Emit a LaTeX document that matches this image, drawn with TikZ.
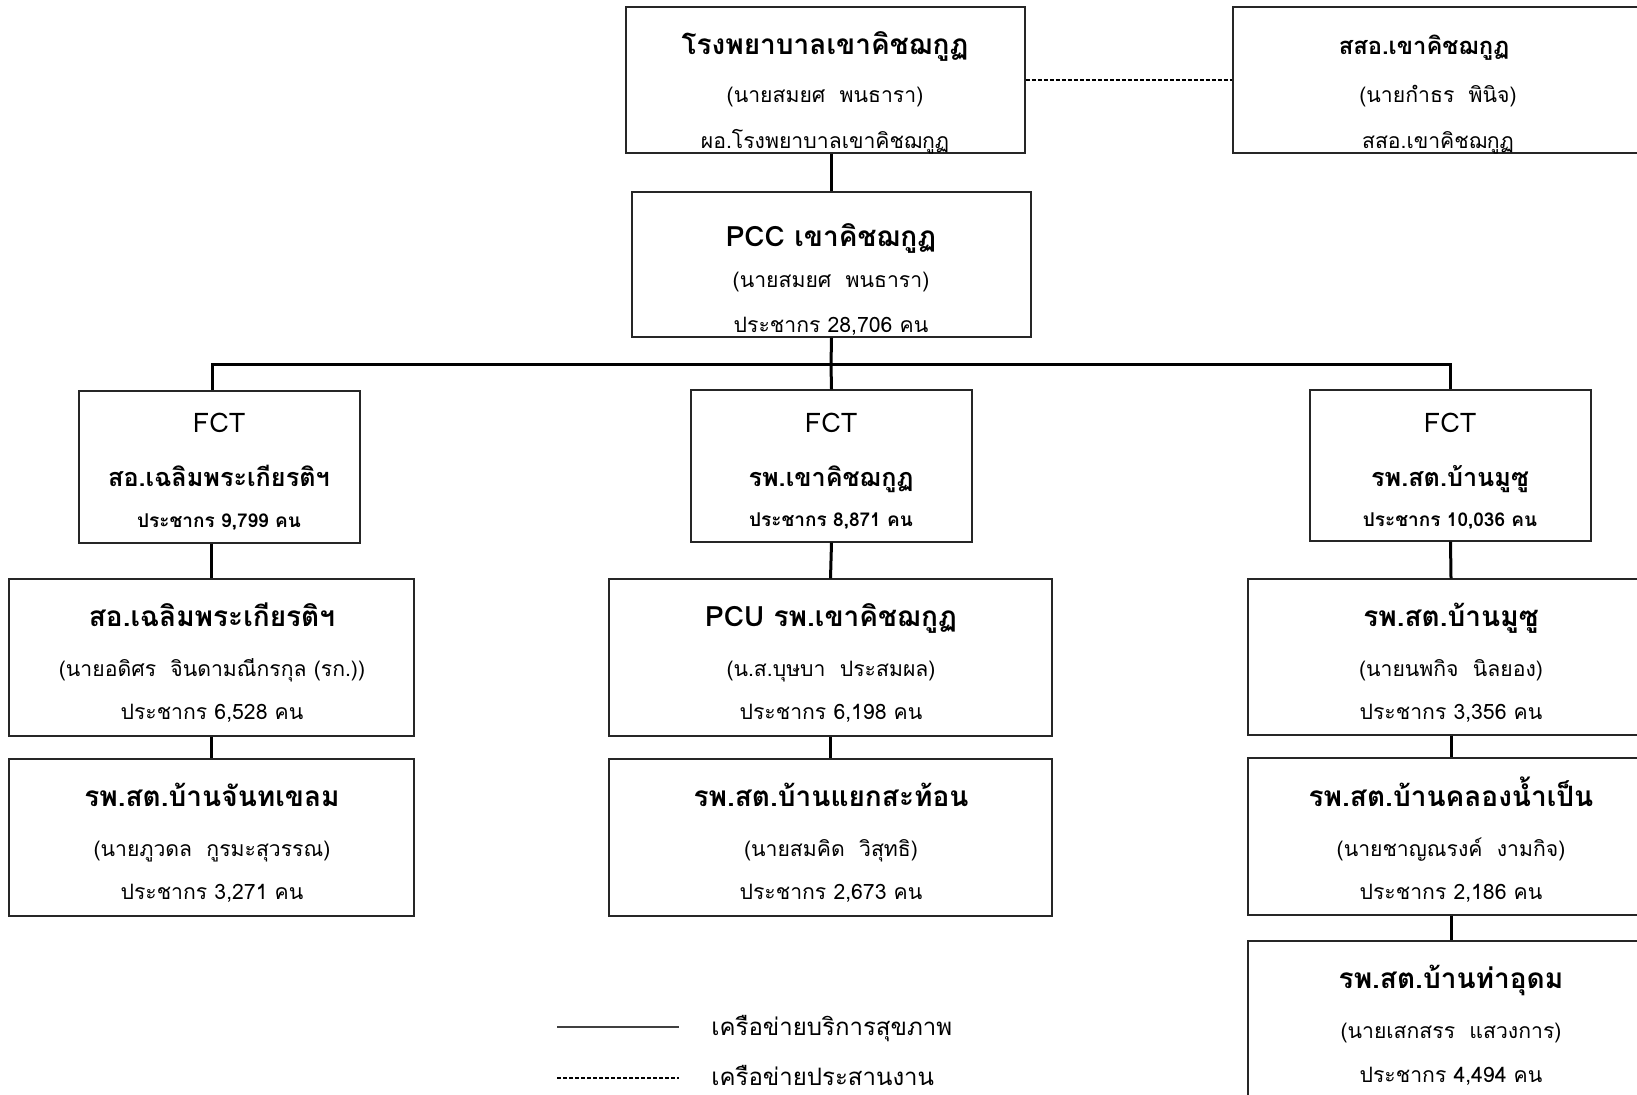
\documentclass[tikz,border=0pt]{standalone}
\usepackage{fontspec}
\setmainfont[Script=Thai]{Loma}
\usetikzlibrary{fit}

\begin{document}
\begin{tikzpicture}[x=0.5pt,y=-0.5pt]
\tikzstyle{every node}+=[inner sep=0pt]
\tikzstyle{box}=[draw=black!85,line width=0.65pt]
\tikzstyle{headtxt}=[anchor=base,font=\fontsize{14}{16}\selectfont\bfseries]
\tikzstyle{fcthead}=[anchor=base,font=\fontsize{12.6}{15}\selectfont\bfseries]
\tikzstyle{fcttxt}=[anchor=base,font=\fontsize{13.5}{15}\selectfont]
\tikzstyle{bodytxt}=[anchor=base,font=\fontsize{10.6}{13}\selectfont]
\tikzstyle{poptxt}=[anchor=base,font=\fontsize{9.5}{11}\selectfont\bfseries]
\tikzstyle{legtxt}=[anchor=base west,font=\fontsize{12}{14}\selectfont]
\tikzstyle{link}=[line width=1.5pt]
\tikzstyle{coop}=[line width=0.6pt,dash pattern=on 2pt off 1pt]
\useasboundingbox (0,0) rectangle (1637,1095);
\clip (0,0) rectangle (1637,1095);
% top row
\node[box,fit={(626,7) (1025,153)}] (hosp) {};
\node[headtxt] (hospT) at (825,55) {โรงพยาบาลเขาคิชฌกูฏ};
\node[bodytxt] (hospN) at (825,103) {(นายสมยศ~~พนธารา)};
\node[bodytxt] (hospP) at (825,149) {ผอ.โรงพยาบาลเขาคิชฌกูฏ};
\node[box,fit={(1233,7) (1660,153)}] (sso) {};
\node[headtxt,font=\fontsize{11.9}{14}\selectfont\bfseries] (ssoT) at (1424,55) {สสอ.เขาคิชฌกูฏ};
\node[bodytxt] (ssoN) at (1438,103) {(นายกำธร~~พินิจ)};
\node[bodytxt] (ssoP) at (1438,149) {สสอ.เขาคิชฌกูฏ};
\node[box,fit={(632,192) (1031,337)}] (pcc) {};
\node[headtxt] (pccT) at (831,247) {PCC เขาคิชฌกูฏ};
\node[bodytxt] (pccN) at (831,288) {(นายสมยศ~~พนธารา)};
\node[bodytxt] (pccP) at (831,333) {ประชากร 28,706 คน};
% FCT row
\node[box,fit={(79,391) (360,543)}] (fct1) {};
\node[fcttxt] (fct1A) at (219,433) {FCT};
\node[fcthead] (fct1T) at (219,487) {สอ.เฉลิมพระเกียรติฯ};
\node[poptxt] (fct1P) at (219,528) {ประชากร 9,799 คน};
\node[box,fit={(691,390) (972,542)}] (fct2) {};
\node[fcttxt] (fct2A) at (831,433) {FCT};
\node[fcthead] (fct2T) at (831,487) {รพ.เขาคิชฌกูฏ};
\node[poptxt] (fct2P) at (831,527) {ประชากร 8,871 คน};
\node[box,fit={(1310,390) (1591,541)}] (fct3) {};
\node[fcttxt] (fct3A) at (1450,433) {FCT};
\node[fcthead] (fct3T) at (1450,487) {รพ.สต.บ้านมูซู};
\node[poptxt] (fct3P) at (1450,527) {ประชากร 10,036 คน};
% units
\node[box,fit={(9,579) (414,736)}] (chal) {};
\node[headtxt] (chalT) at (212,626) {สอ.เฉลิมพระเกียรติฯ};
\node[bodytxt] (chalN) at (212,676) {(นายอดิศร~~จินดามณีกรกุล (รก.))};
\node[bodytxt] (chalP) at (212,719) {ประชากร 6,528 คน};
\node[box,fit={(609,579) (1052,736)}] (pcu) {};
\node[headtxt] (pcuT) at (831,626) {PCU รพ.เขาคิชฌกูฏ};
\node[bodytxt] (pcuN) at (831,676) {(น.ส.บุษบา~~ประสมผล)};
\node[bodytxt] (pcuP) at (831,719) {ประชากร 6,198 คน};
\node[box,fit={(1248,579) (1654,735)}] (muso) {};
\node[headtxt] (musoT) at (1451,626) {รพ.สต.บ้านมูซู};
\node[bodytxt] (musoN) at (1451,676) {(นายนพกิจ~~นิลยอง)};
\node[bodytxt] (musoP) at (1451,719) {ประชากร 3,356 คน};
\node[box,fit={(9,759) (414,916)}] (chan) {};
\node[headtxt] (chanT) at (212,806) {รพ.สต.บ้านจันทเขลม};
\node[bodytxt] (chanN) at (212,856) {(นายภูวดล~~กูรมะสุวรรณ)};
\node[bodytxt] (chanP) at (212,899) {ประชากร 3,271 คน};
\node[box,fit={(609,759) (1052,916)}] (yaek) {};
\node[headtxt] (yaekT) at (831,806) {รพ.สต.บ้านแยกสะท้อน};
\node[bodytxt] (yaekN) at (831,856) {(นายสมคิด~~วิสุทธิ)};
\node[bodytxt] (yaekP) at (831,899) {ประชากร 2,673 คน};
\node[box,fit={(1248,758) (1654,915)}] (khlong) {};
\node[headtxt] (khlongT) at (1451,806) {รพ.สต.บ้านคลองน้ำเป็น};
\node[bodytxt] (khlongN) at (1451,856) {(นายชาญณรงค์~~งามกิจ)};
\node[bodytxt] (khlongP) at (1451,899) {ประชากร 2,186 คน};
\node[box,fit={(1248,941) (1654,1120)}] (tha) {};
\node[headtxt] (thaT) at (1451,988) {รพ.สต.บ้านท่าอุดม};
\node[bodytxt] (thaN) at (1451,1038) {(นายเสกสรร~~แสวงการ)};
\node[bodytxt] (thaP) at (1451,1082) {ประชากร 4,494 คน};
% connectors
\coordinate (bus) at (831,365);
\coordinate (busL) at (212,365);
\coordinate (busR) at (1450,365);
\draw[coop] (hosp.east) -- (sso.west);
\draw[link] (pcc.north) -- (pcc.north |- hosp.south);
\draw[link] (pcc.south) -- (bus);
\draw[link] (fct1.north -| busL) -- (busL) -- (busR) -- (busR |- fct3.north);
\draw[link] (bus) -- (fct2.north);
\draw[link] (chal.north) -- (chal.north |- fct1.south);
\draw[link] (chal.south) -- (chan.north);
\draw[link] (fct2.south) -- (pcu.north);
\draw[link] (pcu.south) -- (yaek.north);
\draw[link] (fct3.south) -- (muso.north);
\draw[link] (muso.south) -- (khlong.north);
\draw[link] (khlong.south) -- (tha.north);
% legend
\coordinate (solA) at (557,1027);
\coordinate (solB) at (679,1027);
\coordinate (dshA) at (557,1078);
\coordinate (dshB) at (679,1078);
\draw[line width=0.7pt,black!75] (solA) -- (solB);
\draw[coop] (dshA) -- (dshB);
\node[legtxt] (legA) at (711,1035) {เครือข่ายบริการสุขภาพ};
\node[legtxt] (legB) at (711,1085) {เครือข่ายประสานงาน};
\end{tikzpicture}
\end{document}
